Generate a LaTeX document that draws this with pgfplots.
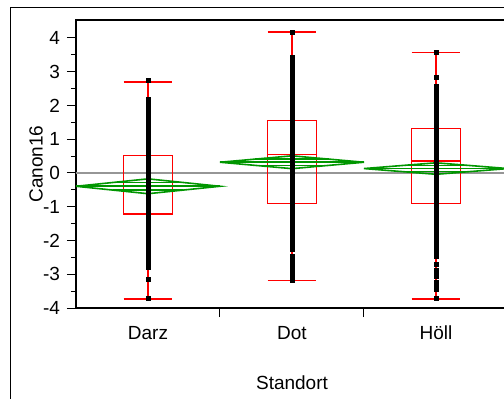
\documentclass[border=0pt]{standalone}
\usepackage{fontspec}
\setmainfont{Liberation Sans}
\usepackage{pgfplots}
\usepgfplotslibrary{statistics}
\pgfplotsset{compat=1.18}
\definecolor{jgreen}{RGB}{0,150,0}
\definecolor{jgray}{RGB}{150,150,150}
\begin{document}
\begin{tikzpicture}
\draw[line width=0.5pt] (-32.5pt,-80pt) rectangle (240pt,150.5pt);
\begin{axis}[
  at={(0,0)}, anchor=south west,
  scale only axis, width=216pt, height=144pt,
  xmin=-0.5, xmax=2.5, ymin=-4, ymax=4.53,
  axis line style={line width=1pt},
  xtick={0.5,1.5}, xticklabels={},
  extra x ticks={0,1,2}, extra x tick labels={Darz,Dot,H\"oll},
  extra x tick style={major tick length=0pt, tick label style={yshift=-5.5pt}},
  ytick={-4,-3,...,4}, minor y tick num=1,
  tick align=outside, xtick pos=bottom, ytick pos=left,
  major tick length=4.5pt, minor tick length=2.5pt,
  tick style={black, line width=0.5pt},
  /pgf/number format/assume math mode=true,
  tick label style={font=\fontsize{9.5}{11}\selectfont},
  label style={font=\fontsize{9.5}{11}\selectfont},
  ylabel={Canon16}, xlabel={Standort},
  ylabel style={at={(axis description cs:-0.0926,0.5)}, anchor=center},
  xlabel style={at={(axis description cs:0.5,-0.26)}, anchor=center},
  boxplot/draw direction=y,
]
% grand mean line
\addplot[jgray, line width=1pt] coordinates {(-0.5,0) (2.5,0)};
% box plots
\addplot[red, line width=0.75pt, boxplot prepared={draw position=0, lower whisker=-3.73, lower quartile=-1.21, median=-0.29, upper quartile=0.51, upper whisker=2.70, box extend=0.34, whisker extend=0.34}] coordinates {};
\addplot[red, line width=0.75pt, boxplot prepared={draw position=1, lower whisker=-3.19, lower quartile=-0.91, median=0.55, upper quartile=1.56, upper whisker=4.17, box extend=0.34, whisker extend=0.34}] coordinates {};
\addplot[red, line width=0.75pt, boxplot prepared={draw position=2, lower whisker=-3.73, lower quartile=-0.91, median=0.35, upper quartile=1.32, upper whisker=3.57, box extend=0.34, whisker extend=0.34}] coordinates {};
% mean diamonds
\addplot[jgreen, line width=0.8pt] coordinates {(-0.5,-0.395) (0,-0.175) (0.5,-0.395) (0,-0.615) (-0.5,-0.395)};
\addplot[jgreen, line width=0.8pt] coordinates {(-0.5,-0.395) (0.5,-0.395)};
\addplot[jgreen, line width=0.8pt] coordinates {(-0.24,-0.28) (0.24,-0.28)};
\addplot[jgreen, line width=0.8pt] coordinates {(-0.24,-0.51) (0.24,-0.51)};
\addplot[jgreen, line width=0.8pt] coordinates {(0.5,0.317) (1,0.507) (1.5,0.317) (1,0.127) (0.5,0.317)};
\addplot[jgreen, line width=0.8pt] coordinates {(0.5,0.317) (1.5,0.317)};
\addplot[jgreen, line width=0.8pt] coordinates {(0.745,0.41) (1.255,0.41)};
\addplot[jgreen, line width=0.8pt] coordinates {(0.745,0.22) (1.255,0.22)};
\addplot[jgreen, line width=0.8pt] coordinates {(1.5,0.13) (2,0.30) (2.5,0.13) (2,-0.04) (1.5,0.13)};
\addplot[jgreen, line width=0.8pt] coordinates {(1.5,0.13) (2.5,0.13)};
\addplot[jgreen, line width=0.8pt] coordinates {(1.765,0.225) (2.235,0.225)};
\addplot[jgreen, line width=0.8pt] coordinates {(1.765,0.045) (2.235,0.045)};
% points
\addplot[only marks, mark=square*, mark size=1pt, black] table[x=x,y=y] {
x y
0 2.74
0 2.19
0 2.02
0 1.96
0 1.90
0 1.84
0 1.78
0 1.72
0 1.66
0 1.60
0 1.54
0 1.48
0 1.42
0 1.36
0 1.30
0 1.24
0 1.18
0 1.12
0 1.06
0 1.00
0 0.94
0 0.88
0 0.82
0 0.76
0 0.70
0 0.64
0 0.58
0 0.52
0 0.46
0 0.40
0 0.34
0 0.28
0 0.22
0 0.16
0 0.10
0 0.04
0 -0.02
0 -0.08
0 -0.14
0 -0.20
0 -0.26
0 -0.32
0 -0.38
0 -0.44
0 -0.50
0 -0.56
0 -0.62
0 -0.68
0 -0.74
0 -0.80
0 -0.86
0 -0.92
0 -0.98
0 -1.04
0 -1.10
0 -1.16
0 -1.22
0 -1.28
0 -1.34
0 -1.40
0 -1.46
0 -1.52
0 -1.58
0 -1.64
0 -1.70
0 -1.76
0 -1.90
0 -1.96
0 -2.02
0 -2.08
0 -2.14
0 -2.20
0 -2.26
0 -2.32
0 -2.38
0 -2.44
0 -2.50
0 -2.56
0 -2.62
0 -2.68
0 -2.74
0 -2.80
0 -3.14
0 -3.73
1 4.17
1 3.41
1 3.35
1 3.29
1 3.23
1 3.17
1 3.11
1 3.05
1 2.99
1 2.94
1 2.79
1 2.73
1 2.67
1 2.61
1 2.55
1 2.49
1 2.43
1 2.37
1 2.27
1 2.21
1 2.15
1 2.09
1 2.03
1 1.97
1 1.91
1 1.85
1 1.79
1 1.73
1 1.67
1 1.61
1 1.55
1 1.49
1 1.43
1 1.37
1 1.31
1 1.25
1 1.19
1 1.13
1 1.07
1 1.01
1 0.95
1 0.89
1 0.83
1 0.77
1 0.71
1 0.65
1 0.59
1 0.53
1 0.47
1 0.41
1 0.35
1 0.29
1 0.23
1 0.17
1 0.11
1 0.05
1 -0.01
1 -0.07
1 -0.13
1 -0.19
1 -0.25
1 -0.31
1 -0.37
1 -0.43
1 -0.49
1 -0.55
1 -0.61
1 -0.67
1 -0.73
1 -0.79
1 -0.85
1 -0.91
1 -0.97
1 -1.03
1 -1.09
1 -1.15
1 -1.21
1 -1.27
1 -1.33
1 -1.39
1 -1.45
1 -1.51
1 -1.57
1 -1.63
1 -1.69
1 -1.75
1 -1.81
1 -1.87
1 -1.93
1 -1.99
1 -2.05
1 -2.11
1 -2.17
1 -2.23
1 -2.27
1 -2.47
1 -2.53
1 -2.59
1 -2.65
1 -2.72
1 -2.84
1 -2.98
1 -3.04
1 -3.10
1 -3.16
1 -3.19
2 3.57
2 2.84
2 2.55
2 2.49
2 2.43
2 2.37
2 2.31
2 2.25
2 2.19
2 2.13
2 2.07
2 2.01
2 1.95
2 1.89
2 1.83
2 1.77
2 1.71
2 1.65
2 1.59
2 1.53
2 1.47
2 1.41
2 1.35
2 1.29
2 1.23
2 1.17
2 1.11
2 1.05
2 0.99
2 0.93
2 0.87
2 0.81
2 0.75
2 0.69
2 0.63
2 0.57
2 0.51
2 0.45
2 0.39
2 0.33
2 0.27
2 0.21
2 0.15
2 0.09
2 0.03
2 -0.03
2 -0.09
2 -0.15
2 -0.21
2 -0.27
2 -0.33
2 -0.39
2 -0.45
2 -0.51
2 -0.57
2 -0.63
2 -0.69
2 -0.75
2 -0.81
2 -0.87
2 -0.93
2 -0.99
2 -1.05
2 -1.11
2 -1.17
2 -1.23
2 -1.29
2 -1.35
2 -1.41
2 -1.47
2 -1.53
2 -1.59
2 -1.65
2 -1.71
2 -1.77
2 -1.83
2 -1.89
2 -1.93
2 -2.06
2 -2.12
2 -2.18
2 -2.24
2 -2.30
2 -2.36
2 -2.42
2 -2.47
2 -2.70
2 -2.89
2 -2.95
2 -3.01
2 -3.06
2 -3.24
2 -3.30
2 -3.36
2 -3.42
2 -3.44
2 -3.73
};
\end{axis}
\pgfresetboundingbox
\useasboundingbox (-38pt,-45pt) rectangle (214pt,154pt);
\end{tikzpicture}
\end{document}
